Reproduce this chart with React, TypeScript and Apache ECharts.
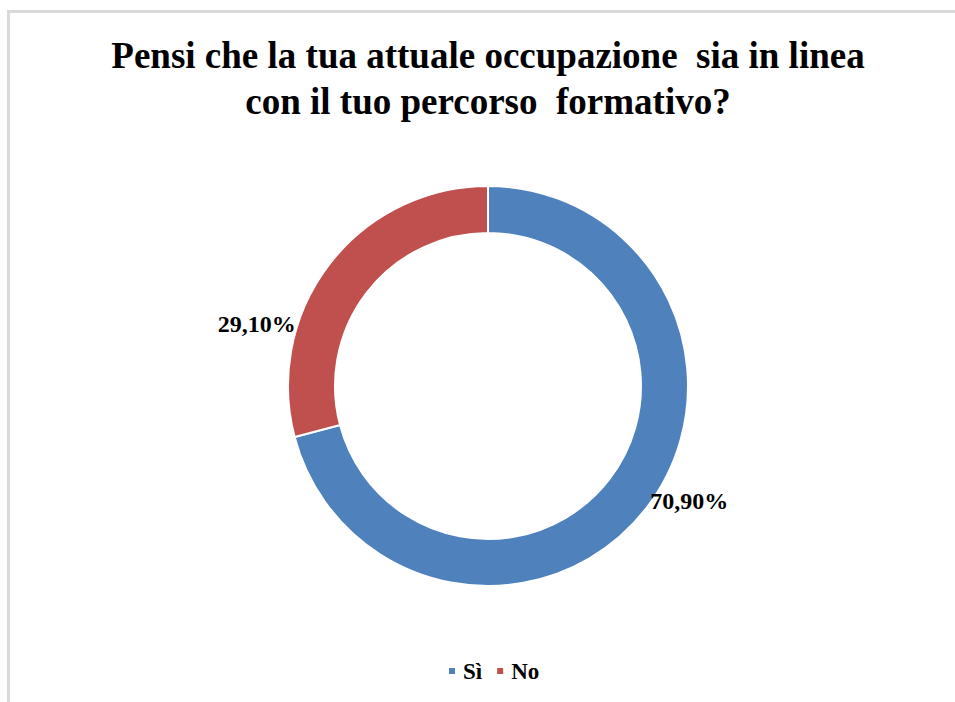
import React, { useEffect, useRef } from "react";
import * as echarts from "echarts";

const titleLines = ["Pensi che la tua attuale occupazione  sia in linea", "con il tuo percorso  formativo?"];
const categories = ["Sì", "No"];
const values = [70.9, 29.1];
const colors = ["#4F81BD", "#C0504D"];
const labelOffsets = [[59, 5], [-89, 48]];

const FONT = "'Liberation Serif', 'Times New Roman', serif";

export default function App() {
  const ref = useRef<HTMLDivElement>(null);
  useEffect(() => {
    const chart = echarts.init(ref.current!, null, { renderer: "svg" });
    chart.setOption({
      animation: false,
      backgroundColor: "#ffffff",
      title: {
        text: titleLines.join("\n"),
        left: 488,
        top: 32,
        textAlign: "center",
        padding: 0,
        textStyle: {
          fontFamily: FONT,
          fontWeight: "bold",
          fontSize: 37,
          lineHeight: 46,
          color: "#000000",
        },
      },
      legend: {
        data: categories,
        left: 447,
        top: 659,
        padding: 0,
        icon: "rect",
        itemWidth: 8,
        itemHeight: 8,
        itemGap: 13,
        textStyle: {
          fontFamily: FONT,
          fontWeight: "bold",
          fontSize: 23,
          lineHeight: 24,
          color: "#000000",
          padding: [0, 0, 0, 2],
        },
      },
      graphic: [
        { type: "rect", shape: { x: 7, y: 10, width: 948, height: 3 }, style: { fill: "#d9d9d9" }, silent: true },
        { type: "rect", shape: { x: 7, y: 10, width: 3, height: 692 }, style: { fill: "#d9d9d9" }, silent: true },
      ],
      series: [
        {
          type: "pie",
          center: [488, 386],
          radius: [153, 200],
          startAngle: 90,
          clockwise: true,
          avoidLabelOverlap: false,
          itemStyle: { borderColor: "#ffffff", borderWidth: 2 },
          emphasis: { disabled: true },
          labelLine: { show: false },
          data: categories.map((name, i) => ({
            name,
            value: values[i],
            itemStyle: { color: colors[i] },
            label: {
              show: true,
              position: "inside",
              offset: labelOffsets[i],
              fontFamily: FONT,
              fontWeight: "bold",
              fontSize: 24,
              color: "#000000",
              formatter: (p: any) => p.value.toFixed(2).replace(".", ",") + "%",
            },
          })),
        },
      ],
    });
    return () => chart.dispose();
  }, []);
  return (
    <div
      ref={ref}
      style={{ position: "absolute", left: 0, top: 0, width: 955, height: 702 }}
    />
  );
}
